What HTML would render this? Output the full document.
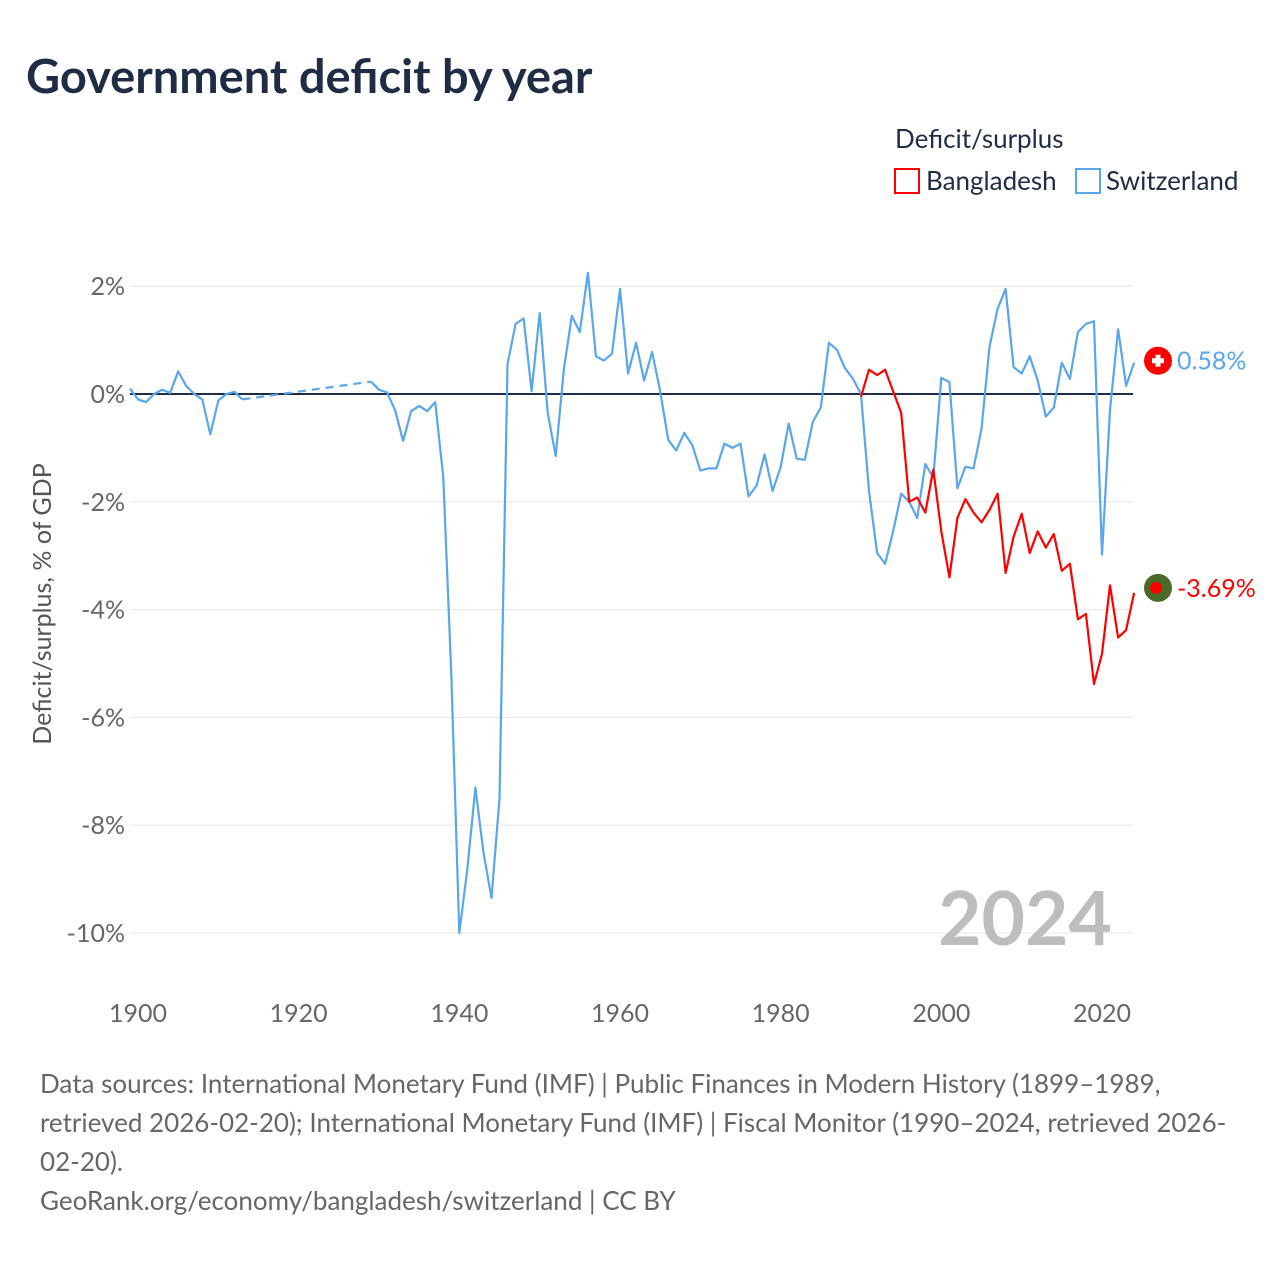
<!DOCTYPE html>
<html><head><meta charset="utf-8"><style>
body{margin:0;background:#fff;font-family:"Liberation Sans",sans-serif;}
svg text{font-family:"Lato","Liberation Sans",sans-serif;}
</style></head><body>
<svg width="1280" height="1280" xmlns="http://www.w3.org/2000/svg">
<text x="26" y="93" font-size="47" font-weight="bold" fill="#1e2d45">Government deficit by year</text>
<text x="895" y="148" font-size="26" fill="#1e2d45">Deficit/surplus</text>
<g><rect x="895" y="169" width="24" height="24" fill="#fff" stroke="#ff0000" stroke-width="2"/><text x="926" y="190" font-size="26" fill="#1e2d45">Bangladesh</text></g>
<g><rect x="1076" y="169" width="24" height="24" fill="#fff" stroke="#5aa6ea" stroke-width="2"/><text x="1106" y="190" font-size="26" fill="#1e2d45">Switzerland</text></g>
<g id="grid"></g>
<g id="xt"></g>
<text transform="translate(51,604) rotate(-90)" text-anchor="middle" font-size="25" fill="#555">Deficit/surplus, % of GDP</text>
<text x="1112" y="945" text-anchor="end" font-size="75" font-weight="bold" fill="#bdbdbd">2024</text>
<g id="series"></g>
<g id="ends"></g>
<text x="40" y="1093" font-size="26" fill="#666">Data sources: International Monetary Fund (IMF) | Public Finances in Modern History (1899–1989,</text>
<text x="40" y="1132" font-size="26" fill="#666">retrieved 2026-02-20); International Monetary Fund (IMF) | Fiscal Monitor (1990–2024, retrieved 2026-</text>
<text x="40" y="1171" font-size="26" fill="#666">02-20).</text>
<text x="40" y="1210" font-size="26" fill="#666">GeoRank.org/economy/bangladesh/switzerland | CC BY</text>
</svg>
<script>
const yTicks=[2,0,-2,-4,-6,-8,-10];
const xTicks=[1900,1920,1940,1960,1980,2000,2020];
const chYears1=[1899,1900,1901,1902,1903,1904,1905,1906,1907,1908,1909,1910,1911,1912,1913];
const chVals1=[0.1,-0.1,-0.15,0.0,0.08,0.02,0.42,0.15,0.0,-0.1,-0.75,-0.12,0.0,0.04,-0.1];
const chYears2=[1929,1930,1931,1932,1933,1934,1935,1936,1937,1938,1939,1940,1941,1942,1943,1944,1945,1946,1947,1948,1949,1950,1951,1952,1953,1954,1955,1956,1957,1958,1959,1960,1961,1962,1963,1964,1965,1966,1967,1968,1969,1970,1971,1972,1973,1974,1975,1976,1977,1978,1979,1980,1981,1982,1983,1984,1985,1986,1987,1988,1989,1990,1991,1992,1993,1994,1995,1996,1997,1998,1999,2000,2001,2002,2003,2004,2005,2006,2007,2008,2009,2010,2011,2012,2013,2014,2015,2016,2017,2018,2019,2020,2021,2022,2023,2024];
const chVals2=[0.23,0.08,0.03,-0.3,-0.87,-0.32,-0.22,-0.32,-0.15,-1.55,-5.2,-10.0,-8.8,-7.3,-8.5,-9.35,-7.5,0.55,1.3,1.4,0.05,1.5,-0.35,-1.15,0.45,1.45,1.15,2.25,0.7,0.62,0.75,1.95,0.38,0.95,0.25,0.78,0.05,-0.85,-1.05,-0.72,-0.95,-1.42,-1.38,-1.38,-0.92,-1.0,-0.92,-1.9,-1.7,-1.12,-1.8,-1.35,-0.55,-1.2,-1.22,-0.52,-0.25,0.95,0.82,0.48,0.28,0.0,-1.8,-2.95,-3.15,-2.55,-1.85,-2.0,-2.3,-1.3,-1.55,0.3,0.22,-1.75,-1.35,-1.38,-0.65,0.88,1.58,1.95,0.5,0.38,0.7,0.25,-0.42,-0.25,0.58,0.28,1.15,1.3,1.35,-2.98,-0.3,1.2,0.15,0.58];
const bdYears=[1990,1991,1992,1993,1994,1995,1996,1997,1998,1999,2000,2001,2002,2003,2004,2005,2006,2007,2008,2009,2010,2011,2012,2013,2014,2015,2016,2017,2018,2019,2020,2021,2022,2023,2024];
const bdVals=[-0.05,0.45,0.35,0.45,0.05,-0.35,-2.0,-1.92,-2.2,-1.4,-2.55,-3.4,-2.3,-1.95,-2.2,-2.38,-2.15,-1.85,-3.32,-2.65,-2.22,-2.95,-2.55,-2.85,-2.6,-3.28,-3.15,-4.18,-4.08,-5.38,-4.82,-3.55,-4.52,-4.38,-3.69];
const X=y=>138+(y-1900)*964/120;
const Y=v=>394-v*53.9;
const NS="http://www.w3.org/2000/svg";
function mk(t,a,p){const e=document.createElementNS(NS,t);for(const k in a)e.setAttribute(k,a[k]);p.appendChild(e);return e;}
const grid=document.getElementById('grid');
yTicks.forEach(v=>{
 const l=mk('line',{x1:130,x2:1133,y1:Y(v),y2:Y(v),stroke:v===0?'#1e2d45':'#e6e6e6','stroke-width':v===0?2:1},grid);
 
 
 const t=mk('text',{x:125,y:Y(v)+9,'text-anchor':'end','font-size':25,fill:'#666'},grid);
 t.textContent=v+'%';
 
 
});
const xt=document.getElementById('xt');
xTicks.forEach(y=>{
 const t=mk('text',{x:X(y),y:1022,'text-anchor':'middle','font-size':25,fill:'#666'},xt);
 t.textContent=y;
 
 
});
const s=document.getElementById('series');
const pts=(ys,vs)=>ys.map((y,i)=>X(y).toFixed(1)+','+Y(vs[i]).toFixed(1)).join(' ');
let p=mk('polyline',{points:pts(chYears1,chVals1),fill:'none',stroke:'#5aa6ea','stroke-width':2.2,'stroke-linejoin':'round'},s);


p=mk('polyline',{points:pts([chYears1[chYears1.length-1],chYears2[0]],[chVals1[chVals1.length-1],chVals2[0]]),fill:'none',stroke:'#5aa6ea','stroke-width':2.2,'stroke-dasharray':'8 6'},s);


p=mk('polyline',{points:pts(chYears2,chVals2),fill:'none',stroke:'#5aa6ea','stroke-width':2.2,'stroke-linejoin':'round'},s);


p=mk('polyline',{points:pts(bdYears,bdVals),fill:'none',stroke:'#ff0000','stroke-width':2.2,'stroke-linejoin':'round'},s);


const ends=document.getElementById('ends');
const chLast=chVals2[chVals2.length-1], bdLast=bdVals[bdVals.length-1];
const cy1=Y(chLast)-2, cy2=Y(bdLast)-5;
let c=mk('circle',{cx:1158,cy:cy1,r:14,fill:'#ff0000'},ends);


mk('rect',{x:1152,y:cy1-2.5,width:12,height:5,fill:'#fff'},ends);
mk('rect',{x:1155.5,y:cy1-6,width:5,height:12,fill:'#fff'},ends);
let t=mk('text',{x:1177,y:cy1+9,'font-size':25,fill:'#5aa6ea'},ends);
t.textContent=chLast.toFixed(2)+'%';


c=mk('circle',{cx:1158,cy:cy2,r:14,fill:'#4a6a2a'},ends);


mk('circle',{cx:1156,cy:cy2,r:6,fill:'#ff0000'},ends);
t=mk('text',{x:1177,y:cy2+9,'font-size':25,fill:'#ff0000'},ends);
t.textContent=bdLast.toFixed(2)+'%';


</script>
</body></html>
